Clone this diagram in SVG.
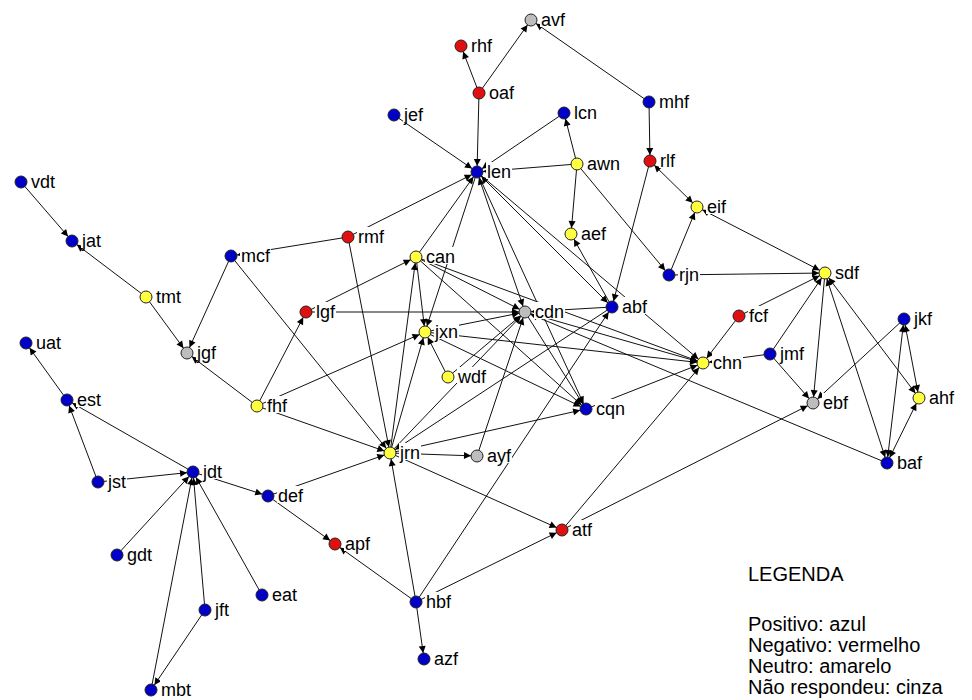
<svg xmlns="http://www.w3.org/2000/svg" width="972" height="700" viewBox="0 0 972 700">
<defs>
<marker id="ah" markerUnits="userSpaceOnUse" markerWidth="16" markerHeight="8" refX="13" refY="3.5" orient="auto-start-reverse" overflow="visible"><path d="M0,0 L7,3.5 L0,7 z" fill="#000"/></marker>
</defs>
<style>
.e line{stroke:#111;stroke-width:1;fill:none;marker-end:url(#ah)}
.e line.b{marker-start:url(#ah)}
.n circle{stroke:#222;stroke-width:1}
.n rect{fill:#fff}
text{font-family:"Liberation Sans",Arial,sans-serif;fill:#000}
.n text{font-size:18px}
.pos{fill:#0000c8}
.neg{fill:#e01010}
.neu{fill:#ffff40}
.nr{fill:#bdbdbd}
.leg{font-size:20px}
</style>
<rect width="972" height="700" fill="#fff"/>
<!-- directed ties -->
<g id="edges" class="e">
<line x1="479" y1="93" x2="461" y2="46"/>
<line x1="479" y1="93" x2="531" y2="20"/>
<line x1="649" y1="102" x2="531" y2="20"/>
<line x1="479" y1="93" x2="477" y2="172"/>
<line x1="394" y1="115" x2="477" y2="172"/>
<line x1="577" y1="164" x2="564" y2="113"/>
<line x1="564" y1="113" x2="477" y2="172"/>
<line x1="577" y1="164" x2="477" y2="172"/>
<line x1="649" y1="102" x2="650" y2="161"/>
<line x1="577" y1="164" x2="571" y2="234"/>
<line x1="577" y1="164" x2="669" y2="275"/>
<line class="b" x1="650" y1="161" x2="697" y2="207"/>
<line x1="650" y1="161" x2="612" y2="307"/>
<line x1="612" y1="307" x2="571" y2="234"/>
<line x1="669" y1="275" x2="697" y2="207"/>
<line x1="669" y1="275" x2="825" y2="273"/>
<line class="b" x1="697" y1="207" x2="825" y2="273"/>
<line x1="348" y1="237" x2="477" y2="172"/>
<line x1="416" y1="257" x2="477" y2="172"/>
<line x1="477" y1="172" x2="425" y2="332"/>
<line class="b" x1="477" y1="172" x2="525" y2="312"/>
<line x1="477" y1="172" x2="586" y2="409"/>
<line class="b" x1="477" y1="172" x2="612" y2="307"/>
<line x1="477" y1="172" x2="703" y2="363"/>
<line x1="21" y1="182" x2="72" y2="241"/>
<line x1="146" y1="297" x2="72" y2="241"/>
<line x1="146" y1="297" x2="187" y2="353"/>
<line x1="231" y1="256" x2="187" y2="353"/>
<line x1="257" y1="406" x2="187" y2="353"/>
<line x1="257" y1="406" x2="306" y2="312"/>
<line x1="348" y1="237" x2="231" y2="256"/>
<line x1="231" y1="256" x2="390" y2="453"/>
<line x1="348" y1="237" x2="390" y2="453"/>
<line x1="306" y1="312" x2="416" y2="257"/>
<line x1="306" y1="312" x2="525" y2="312"/>
<line x1="416" y1="257" x2="525" y2="312"/>
<line x1="416" y1="257" x2="703" y2="363"/>
<line x1="416" y1="257" x2="586" y2="409"/>
<line x1="416" y1="257" x2="425" y2="332"/>
<line x1="390" y1="453" x2="416" y2="257"/>
<line x1="390" y1="453" x2="425" y2="332"/>
<line x1="448" y1="377" x2="425" y2="332"/>
<line x1="257" y1="406" x2="425" y2="332"/>
<line x1="425" y1="332" x2="525" y2="312"/>
<line x1="425" y1="332" x2="703" y2="363"/>
<line x1="425" y1="332" x2="586" y2="409"/>
<line x1="448" y1="377" x2="525" y2="312"/>
<line x1="390" y1="453" x2="525" y2="312"/>
<line x1="477" y1="456" x2="525" y2="312"/>
<line x1="612" y1="307" x2="525" y2="312"/>
<line x1="525" y1="312" x2="703" y2="363"/>
<line x1="525" y1="312" x2="586" y2="409"/>
<line x1="887" y1="463" x2="525" y2="312"/>
<line x1="257" y1="406" x2="390" y2="453"/>
<line x1="268" y1="496" x2="390" y2="453"/>
<line x1="390" y1="453" x2="477" y2="456"/>
<line x1="390" y1="453" x2="586" y2="409"/>
<line x1="390" y1="453" x2="562" y2="530"/>
<line x1="612" y1="307" x2="390" y2="453"/>
<line x1="416" y1="602" x2="390" y2="453"/>
<line x1="416" y1="602" x2="335" y2="544"/>
<line x1="416" y1="602" x2="424" y2="659"/>
<line x1="416" y1="602" x2="562" y2="530"/>
<line x1="416" y1="602" x2="612" y2="307"/>
<line x1="562" y1="530" x2="703" y2="363"/>
<line x1="562" y1="530" x2="813" y2="403"/>
<line x1="586" y1="409" x2="703" y2="363"/>
<line x1="739" y1="316" x2="703" y2="363"/>
<line x1="770" y1="354" x2="703" y2="363"/>
<line x1="739" y1="316" x2="825" y2="273"/>
<line x1="770" y1="354" x2="825" y2="273"/>
<line x1="770" y1="354" x2="813" y2="403"/>
<line x1="825" y1="273" x2="813" y2="403"/>
<line class="b" x1="825" y1="273" x2="887" y2="463"/>
<line class="b" x1="825" y1="273" x2="919" y2="398"/>
<line class="b" x1="904" y1="319" x2="887" y2="463"/>
<line class="b" x1="904" y1="319" x2="919" y2="398"/>
<line class="b" x1="887" y1="463" x2="919" y2="398"/>
<line x1="904" y1="319" x2="813" y2="403"/>
<line x1="67" y1="400" x2="26" y2="343"/>
<line x1="98" y1="482" x2="67" y2="400"/>
<line x1="193" y1="472" x2="67" y2="400"/>
<line x1="98" y1="482" x2="193" y2="472"/>
<line x1="117" y1="555" x2="193" y2="472"/>
<line x1="151" y1="690" x2="193" y2="472"/>
<line x1="205" y1="610" x2="193" y2="472"/>
<line x1="262" y1="595" x2="193" y2="472"/>
<line x1="205" y1="610" x2="151" y2="690"/>
<line x1="193" y1="472" x2="268" y2="496"/>
<line x1="268" y1="496" x2="335" y2="544"/>
</g>
<!-- actors: label plate, name, coloured dot -->
<g id="avf" class="n"><rect x="540" y="10" width="26" height="17"/><text x="541" y="26">avf</text><circle class="nr" cx="531" cy="20" r="6"/></g>
<g id="rhf" class="n"><rect x="470" y="36" width="23" height="17"/><text x="471" y="52">rhf</text><circle class="neg" cx="461" cy="46" r="6"/></g>
<g id="oaf" class="n"><rect x="488" y="83" width="27" height="17"/><text x="489" y="99">oaf</text><circle class="neg" cx="479" cy="93" r="6"/></g>
<g id="jef" class="n"><rect x="403" y="105" width="21" height="17"/><text x="404" y="121">jef</text><circle class="pos" cx="394" cy="115" r="6"/></g>
<g id="lcn" class="n"><rect x="573" y="103" width="25" height="17"/><text x="574" y="119">lcn</text><circle class="pos" cx="564" cy="113" r="6"/></g>
<g id="mhf" class="n"><rect x="658" y="92" width="32" height="17"/><text x="659" y="108">mhf</text><circle class="pos" cx="649" cy="102" r="6"/></g>
<g id="len" class="n"><rect x="486" y="162" width="26" height="17"/><text x="487" y="178">len</text><circle class="pos" cx="477" cy="172" r="6"/></g>
<g id="awn" class="n"><rect x="586" y="154" width="35" height="17"/><text x="587" y="170">awn</text><circle class="neu" cx="577" cy="164" r="6"/></g>
<g id="rlf" class="n"><rect x="659" y="151" width="17" height="17"/><text x="660" y="167">rlf</text><circle class="neg" cx="650" cy="161" r="6"/></g>
<g id="vdt" class="n"><rect x="30" y="172" width="26" height="17"/><text x="31" y="188">vdt</text><circle class="pos" cx="21" cy="182" r="6"/></g>
<g id="jat" class="n"><rect x="81" y="231" width="21" height="17"/><text x="82" y="247">jat</text><circle class="pos" cx="72" cy="241" r="6"/></g>
<g id="eif" class="n"><rect x="706" y="197" width="21" height="17"/><text x="707" y="213">eif</text><circle class="neu" cx="697" cy="207" r="6"/></g>
<g id="aef" class="n"><rect x="580" y="224" width="27" height="17"/><text x="581" y="240">aef</text><circle class="neu" cx="571" cy="234" r="6"/></g>
<g id="rmf" class="n"><rect x="357" y="227" width="28" height="17"/><text x="358" y="243">rmf</text><circle class="neg" cx="348" cy="237" r="6"/></g>
<g id="mcf" class="n"><rect x="240" y="246" width="31" height="17"/><text x="241" y="262">mcf</text><circle class="pos" cx="231" cy="256" r="6"/></g>
<g id="can" class="n"><rect x="425" y="247" width="31" height="17"/><text x="426" y="263">can</text><circle class="neu" cx="416" cy="257" r="6"/></g>
<g id="rjn" class="n"><rect x="678" y="265" width="22" height="17"/><text x="679" y="281">rjn</text><circle class="pos" cx="669" cy="275" r="6"/></g>
<g id="sdf" class="n"><rect x="834" y="263" width="26" height="17"/><text x="835" y="279">sdf</text><circle class="neu" cx="825" cy="273" r="6"/></g>
<g id="tmt" class="n"><rect x="155" y="287" width="27" height="17"/><text x="156" y="303">tmt</text><circle class="neu" cx="146" cy="297" r="6"/></g>
<g id="lgf" class="n"><rect x="315" y="302" width="21" height="17"/><text x="316" y="318">lgf</text><circle class="neg" cx="306" cy="312" r="6"/></g>
<g id="cdn" class="n"><rect x="534" y="302" width="31" height="17"/><text x="535" y="318">cdn</text><circle class="nr" cx="525" cy="312" r="6"/></g>
<g id="abf" class="n"><rect x="621" y="297" width="27" height="17"/><text x="622" y="313">abf</text><circle class="pos" cx="612" cy="307" r="6"/></g>
<g id="fcf" class="n"><rect x="748" y="306" width="21" height="17"/><text x="749" y="322">fcf</text><circle class="neg" cx="739" cy="316" r="6"/></g>
<g id="jkf" class="n"><rect x="913" y="309" width="20" height="17"/><text x="914" y="325">jkf</text><circle class="pos" cx="904" cy="319" r="6"/></g>
<g id="jxn" class="n"><rect x="434" y="322" width="25" height="17"/><text x="435" y="338">jxn</text><circle class="neu" cx="425" cy="332" r="6"/></g>
<g id="uat" class="n"><rect x="35" y="333" width="27" height="17"/><text x="36" y="349">uat</text><circle class="pos" cx="26" cy="343" r="6"/></g>
<g id="jgf" class="n"><rect x="196" y="343" width="21" height="17"/><text x="197" y="359">jgf</text><circle class="nr" cx="187" cy="353" r="6"/></g>
<g id="jmf" class="n"><rect x="779" y="344" width="26" height="17"/><text x="780" y="360">jmf</text><circle class="pos" cx="770" cy="354" r="6"/></g>
<g id="chn" class="n"><rect x="712" y="353" width="31" height="17"/><text x="713" y="369">chn</text><circle class="neu" cx="703" cy="363" r="6"/></g>
<g id="wdf" class="n"><rect x="457" y="367" width="30" height="17"/><text x="458" y="383">wdf</text><circle class="neu" cx="448" cy="377" r="6"/></g>
<g id="ahf" class="n"><rect x="928" y="388" width="27" height="17"/><text x="929" y="404">ahf</text><circle class="neu" cx="919" cy="398" r="6"/></g>
<g id="est" class="n"><rect x="76" y="390" width="26" height="17"/><text x="77" y="406">est</text><circle class="pos" cx="67" cy="400" r="6"/></g>
<g id="cqn" class="n"><rect x="595" y="399" width="31" height="17"/><text x="596" y="415">cqn</text><circle class="pos" cx="586" cy="409" r="6"/></g>
<g id="ebf" class="n"><rect x="822" y="393" width="27" height="17"/><text x="823" y="409">ebf</text><circle class="nr" cx="813" cy="403" r="6"/></g>
<g id="fhf" class="n"><rect x="266" y="396" width="22" height="17"/><text x="267" y="412">fhf</text><circle class="neu" cx="257" cy="406" r="6"/></g>
<g id="jst" class="n"><rect x="107" y="472" width="20" height="17"/><text x="108" y="488">jst</text><circle class="pos" cx="98" cy="482" r="6"/></g>
<g id="jdt" class="n"><rect x="202" y="462" width="21" height="17"/><text x="203" y="478">jdt</text><circle class="pos" cx="193" cy="472" r="6"/></g>
<g id="jrn" class="n"><rect x="399" y="443" width="22" height="17"/><text x="400" y="459">jrn</text><circle class="neu" cx="390" cy="453" r="6"/></g>
<g id="ayf" class="n"><rect x="486" y="446" width="26" height="17"/><text x="487" y="462">ayf</text><circle class="nr" cx="477" cy="456" r="6"/></g>
<g id="def" class="n"><rect x="277" y="486" width="27" height="17"/><text x="278" y="502">def</text><circle class="pos" cx="268" cy="496" r="6"/></g>
<g id="baf" class="n"><rect x="896" y="453" width="27" height="17"/><text x="897" y="469">baf</text><circle class="pos" cx="887" cy="463" r="6"/></g>
<g id="atf" class="n"><rect x="571" y="520" width="22" height="17"/><text x="572" y="536">atf</text><circle class="neg" cx="562" cy="530" r="6"/></g>
<g id="apf" class="n"><rect x="344" y="534" width="27" height="17"/><text x="345" y="550">apf</text><circle class="neg" cx="335" cy="544" r="6"/></g>
<g id="gdt" class="n"><rect x="126" y="545" width="27" height="17"/><text x="127" y="561">gdt</text><circle class="pos" cx="117" cy="555" r="6"/></g>
<g id="eat" class="n"><rect x="271" y="585" width="27" height="17"/><text x="272" y="601">eat</text><circle class="pos" cx="262" cy="595" r="6"/></g>
<g id="jft" class="n"><rect x="214" y="600" width="16" height="17"/><text x="215" y="616">jft</text><circle class="pos" cx="205" cy="610" r="6"/></g>
<g id="hbf" class="n"><rect x="425" y="592" width="27" height="17"/><text x="426" y="608">hbf</text><circle class="pos" cx="416" cy="602" r="6"/></g>
<g id="azf" class="n"><rect x="433" y="649" width="26" height="17"/><text x="434" y="665">azf</text><circle class="pos" cx="424" cy="659" r="6"/></g>
<g id="mbt" class="n"><rect x="160" y="680" width="32" height="17"/><text x="161" y="696">mbt</text><circle class="pos" cx="151" cy="690" r="6"/></g>
<!-- key -->
<g id="legend" class="leg">
<text x="748" y="581">LEGENDA</text>
<text x="748" y="631">Positivo: azul</text>
<text x="748" y="652">Negativo: vermelho</text>
<text x="748" y="673">Neutro: amarelo</text>
<text x="748" y="694">Não respondeu: cinza</text>
</g>
</svg>
